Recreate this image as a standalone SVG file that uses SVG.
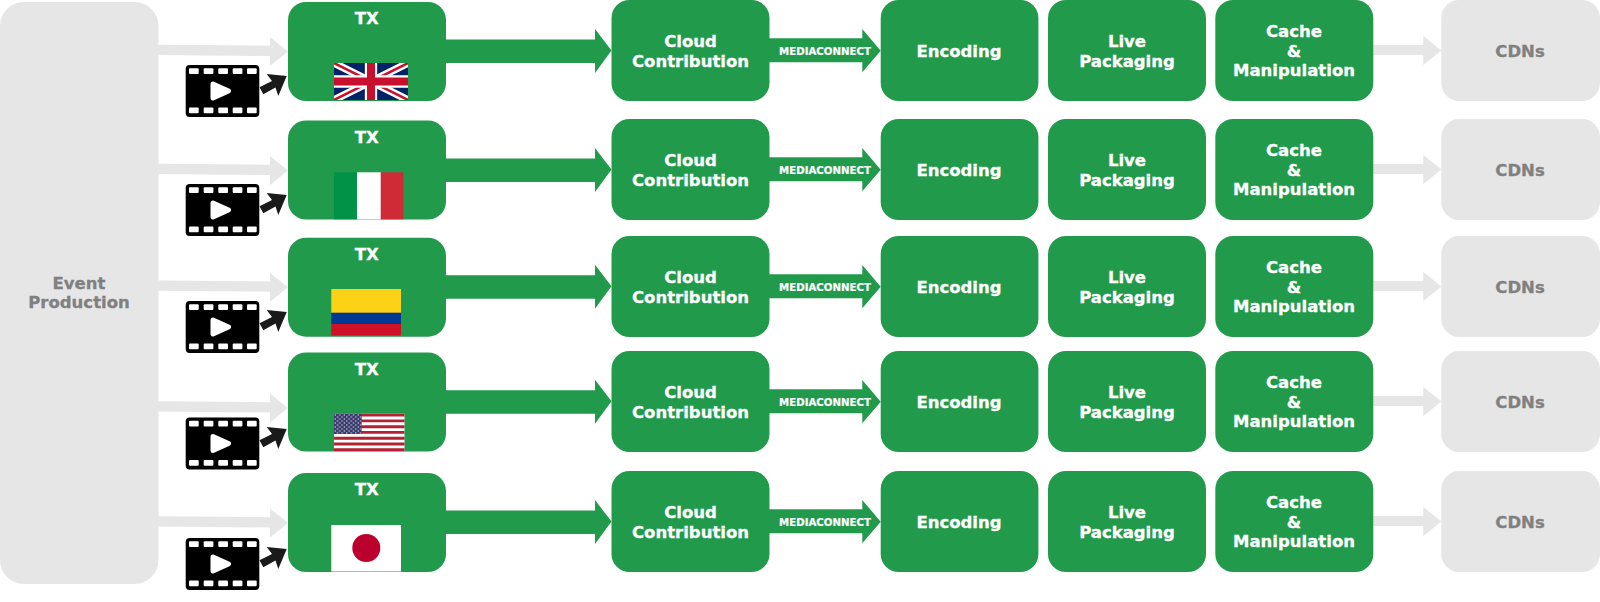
<svg xmlns="http://www.w3.org/2000/svg" width="1600" height="602" viewBox="0 0 1600 602">
<style>
text{font-family:"DejaVu Sans",Verdana,sans-serif;font-weight:700;text-anchor:middle;font-size:16.500px;fill:#fff;stroke:#fff;stroke-width:.3px}
.g{fill:#229a4b}.n{fill:#e6e6e6}
text.d{fill:#808080;stroke:#808080}
text.m{font-size:10.200px;stroke-width:.2px}
</style>
<defs>
<g id="film">
<rect x="185.700" y="65" width="73.600" height="52" rx="4" fill="#000"/>
<g fill="#fff"><rect x="189" y="68.300" width="9.700" height="5.800" rx="1"/><rect x="203.700" y="68.300" width="9.700" height="5.800" rx="1"/><rect x="218.300" y="68.300" width="9.700" height="5.800" rx="1"/><rect x="232.700" y="68.300" width="9.700" height="5.800" rx="1"/><rect x="247" y="68.300" width="9.700" height="5.800" rx="1"/><rect x="189" y="107.400" width="9.700" height="5.800" rx="1"/><rect x="203.700" y="107.400" width="9.700" height="5.800" rx="1"/><rect x="218.300" y="107.400" width="9.700" height="5.800" rx="1"/><rect x="232.700" y="107.400" width="9.700" height="5.800" rx="1"/><rect x="247" y="107.400" width="9.700" height="5.800" rx="1"/>
<path d="M213 84L228.500 91L213 98Z" stroke="#fff" stroke-width="5" stroke-linejoin="round"/></g>
</g>
<path id="ga" d="M158 44.700L270 45.700V37L288 51.500L270 66V56L158 55Z" class="n"/>
<path id="ka" d="M259.500 87.300L272 81L266.700 74L286.700 76L278.300 96L275.500 87.500L263.300 94.300Z" fill="#1a1a1a"/>
<path id="ba" d="M446 39.500H595V29L611.500 50.500L595 73V63H446Z" class="g"/>
<path id="ma" d="M769 38.300H862.300V29L880.700 50.700L862.300 72.300V62.300H769Z" class="g"/>
<path id="ca" d="M1372 45H1423.300V36L1441.300 50.500L1423.300 65V55H1372Z" class="n"/>
<pattern id="stars" width="4.600" height="4" patternUnits="userSpaceOnUse" x="334" y="414"><rect width="4.600" height="4" fill="#3c3b6e"/><circle cx="1.200" cy="1" r=".7" fill="#d8d8e8"/><circle cx="3.500" cy="3" r=".7" fill="#d8d8e8"/></pattern>
</defs>
<g id="event-production"><rect class="n" x="0" y="2" width="158.500" height="582" rx="24"/><text class="d" x="79" y="289">Event</text><text class="d" x="79" y="308">Production</text></g>
<g id="connectors">
<use href="#ga"/><use href="#ka"/><use href="#ba"/><use href="#ma"/><use href="#ca"/>
<use href="#ga" y="119"/><use href="#ka" y="119"/><use href="#ba" y="119"/><use href="#ma" y="119"/><use href="#ca" y="119"/>
<use href="#ga" y="235.700"/><use href="#ka" y="236"/><use href="#ba" y="235.700"/><use href="#ma" y="236"/><use href="#ca" y="236"/>
<use href="#ga" y="356.500"/><use href="#ka" y="353"/><use href="#ba" y="350.700"/><use href="#ma" y="351"/><use href="#ca" y="351"/>
<use href="#ga" y="471.500"/><use href="#ka" y="473"/><use href="#ba" y="471"/><use href="#ma" y="471"/><use href="#ca" y="471"/>
</g>
<g id="film-1"><use href="#film"/></g>
<g id="film-2"><use href="#film" y="119"/></g>
<g id="film-3"><use href="#film" y="236"/></g>
<g id="film-4"><use href="#film" y="352.500"/></g>
<g id="film-5"><use href="#film" y="473"/></g>
<g id="tx-uk"><rect class="g" x="288" y="2" width="158" height="99" rx="18"/><text x="366.700" y="24">TX</text>
<svg x="334" y="63" width="74" height="37" viewBox="0 0 60 30"><rect width="60" height="30" fill="#012169"/><path d="M0 0L60 30M60 0L0 30" stroke="#fff" stroke-width="6"/><path d="M0 0L60 30M60 0L0 30" stroke="#c8102e" stroke-width="2"/><path d="M30 0V30M0 15H60" stroke="#fff" stroke-width="10"/><path d="M30 0V30M0 15H60" stroke="#c8102e" stroke-width="6.500"/></svg></g>
<g id="tx-it"><rect class="g" x="288" y="120.500" width="158" height="99" rx="18"/><text x="366.700" y="142.700">TX</text>
<rect x="334" y="172.300" width="23.200" height="47" fill="#009246"/><rect x="357" y="172.300" width="24" height="47" fill="#fff"/><rect x="380.700" y="172.300" width="22.700" height="47" fill="#ce2b37"/></g>
<g id="tx-co"><rect class="g" x="288" y="237.700" width="158" height="99" rx="18"/><text x="366.700" y="260">TX</text>
<rect x="331.300" y="289" width="69.700" height="24" fill="#fcd116"/><rect x="331.300" y="312.700" width="69.700" height="11.500" fill="#003893"/><rect x="331.300" y="324" width="69.700" height="11.500" fill="#ce1126"/></g>
<g id="tx-us"><rect class="g" x="288" y="352.500" width="158" height="99" rx="18"/><text x="366.700" y="375">TX</text>
<rect x="334" y="413.700" width="70.500" height="37.500" fill="#fff"/>
<path d="M334 415.100H404.500M334 420.900H404.500M334 426.700H404.500M334 432.400H404.500M334 438.200H404.500M334 444H404.500M334 449.800H404.500" stroke="#b22234" stroke-width="2.880"/>
<rect x="334" y="413.700" width="27.700" height="20.300" fill="url(#stars)"/></g>
<g id="tx-jp"><rect class="g" x="288" y="473" width="158" height="99" rx="18"/><text x="366.700" y="495">TX</text>
<rect x="331.300" y="525" width="69.700" height="46.500" fill="#fff"/><circle cx="366.300" cy="548" r="14" fill="#bc002d"/></g>
<g id="label-row1"><text class="m" x="825" y="55">MEDIACONNECT</text></g>
<g id="label-row2" transform="translate(0 119)"><text class="m" x="825" y="55">MEDIACONNECT</text></g>
<g id="label-row3" transform="translate(0 236)"><text class="m" x="825" y="55">MEDIACONNECT</text></g>
<g id="label-row4" transform="translate(0 351)"><text class="m" x="825" y="55">MEDIACONNECT</text></g>
<g id="label-row5" transform="translate(0 471)"><text class="m" x="825" y="55">MEDIACONNECT</text></g>
<g id="cloud-1"><rect class="g" x="611.500" y="0" width="158" height="101" rx="18"/><text x="690.500" y="47">Cloud</text><text x="690.500" y="66.500">Contribution</text></g>
<g id="encoding-1"><rect class="g" x="880.700" y="0" width="157.700" height="101" rx="18"/><text x="959" y="56.500">Encoding</text></g>
<g id="packaging-1"><rect class="g" x="1048" y="0" width="158" height="101" rx="18"/><text x="1127" y="47">Live</text><text x="1127" y="66.500">Packaging</text></g>
<g id="cache-1"><rect class="g" x="1215.300" y="0" width="158" height="101" rx="18"/><text x="1294" y="37">Cache</text><text x="1294" y="56.500">&amp;</text><text x="1294" y="76">Manipulation</text></g>
<g id="cdn-1"><rect class="n" x="1441.300" y="0" width="158.700" height="101" rx="18"/><text class="d" x="1520" y="56.500">CDNs</text></g>
<g id="cloud-2" transform="translate(0 119)"><rect class="g" x="611.500" y="0" width="158" height="101" rx="18"/><text x="690.500" y="47">Cloud</text><text x="690.500" y="66.500">Contribution</text></g>
<g id="encoding-2" transform="translate(0 119)"><rect class="g" x="880.700" y="0" width="157.700" height="101" rx="18"/><text x="959" y="56.500">Encoding</text></g>
<g id="packaging-2" transform="translate(0 119)"><rect class="g" x="1048" y="0" width="158" height="101" rx="18"/><text x="1127" y="47">Live</text><text x="1127" y="66.500">Packaging</text></g>
<g id="cache-2" transform="translate(0 119)"><rect class="g" x="1215.300" y="0" width="158" height="101" rx="18"/><text x="1294" y="37">Cache</text><text x="1294" y="56.500">&amp;</text><text x="1294" y="76">Manipulation</text></g>
<g id="cdn-2" transform="translate(0 119)"><rect class="n" x="1441.300" y="0" width="158.700" height="101" rx="18"/><text class="d" x="1520" y="56.500">CDNs</text></g>
<g id="cloud-3" transform="translate(0 236)"><rect class="g" x="611.500" y="0" width="158" height="101" rx="18"/><text x="690.500" y="47">Cloud</text><text x="690.500" y="66.500">Contribution</text></g>
<g id="encoding-3" transform="translate(0 236)"><rect class="g" x="880.700" y="0" width="157.700" height="101" rx="18"/><text x="959" y="56.500">Encoding</text></g>
<g id="packaging-3" transform="translate(0 236)"><rect class="g" x="1048" y="0" width="158" height="101" rx="18"/><text x="1127" y="47">Live</text><text x="1127" y="66.500">Packaging</text></g>
<g id="cache-3" transform="translate(0 236)"><rect class="g" x="1215.300" y="0" width="158" height="101" rx="18"/><text x="1294" y="37">Cache</text><text x="1294" y="56.500">&amp;</text><text x="1294" y="76">Manipulation</text></g>
<g id="cdn-3" transform="translate(0 236)"><rect class="n" x="1441.300" y="0" width="158.700" height="101" rx="18"/><text class="d" x="1520" y="56.500">CDNs</text></g>
<g id="cloud-4" transform="translate(0 351)"><rect class="g" x="611.500" y="0" width="158" height="101" rx="18"/><text x="690.500" y="47">Cloud</text><text x="690.500" y="66.500">Contribution</text></g>
<g id="encoding-4" transform="translate(0 351)"><rect class="g" x="880.700" y="0" width="157.700" height="101" rx="18"/><text x="959" y="56.500">Encoding</text></g>
<g id="packaging-4" transform="translate(0 351)"><rect class="g" x="1048" y="0" width="158" height="101" rx="18"/><text x="1127" y="47">Live</text><text x="1127" y="66.500">Packaging</text></g>
<g id="cache-4" transform="translate(0 351)"><rect class="g" x="1215.300" y="0" width="158" height="101" rx="18"/><text x="1294" y="37">Cache</text><text x="1294" y="56.500">&amp;</text><text x="1294" y="76">Manipulation</text></g>
<g id="cdn-4" transform="translate(0 351)"><rect class="n" x="1441.300" y="0" width="158.700" height="101" rx="18"/><text class="d" x="1520" y="56.500">CDNs</text></g>
<g id="cloud-5" transform="translate(0 471)"><rect class="g" x="611.500" y="0" width="158" height="101" rx="18"/><text x="690.500" y="47">Cloud</text><text x="690.500" y="66.500">Contribution</text></g>
<g id="encoding-5" transform="translate(0 471)"><rect class="g" x="880.700" y="0" width="157.700" height="101" rx="18"/><text x="959" y="56.500">Encoding</text></g>
<g id="packaging-5" transform="translate(0 471)"><rect class="g" x="1048" y="0" width="158" height="101" rx="18"/><text x="1127" y="47">Live</text><text x="1127" y="66.500">Packaging</text></g>
<g id="cache-5" transform="translate(0 471)"><rect class="g" x="1215.300" y="0" width="158" height="101" rx="18"/><text x="1294" y="37">Cache</text><text x="1294" y="56.500">&amp;</text><text x="1294" y="76">Manipulation</text></g>
<g id="cdn-5" transform="translate(0 471)"><rect class="n" x="1441.300" y="0" width="158.700" height="101" rx="18"/><text class="d" x="1520" y="56.500">CDNs</text></g>
</svg>
